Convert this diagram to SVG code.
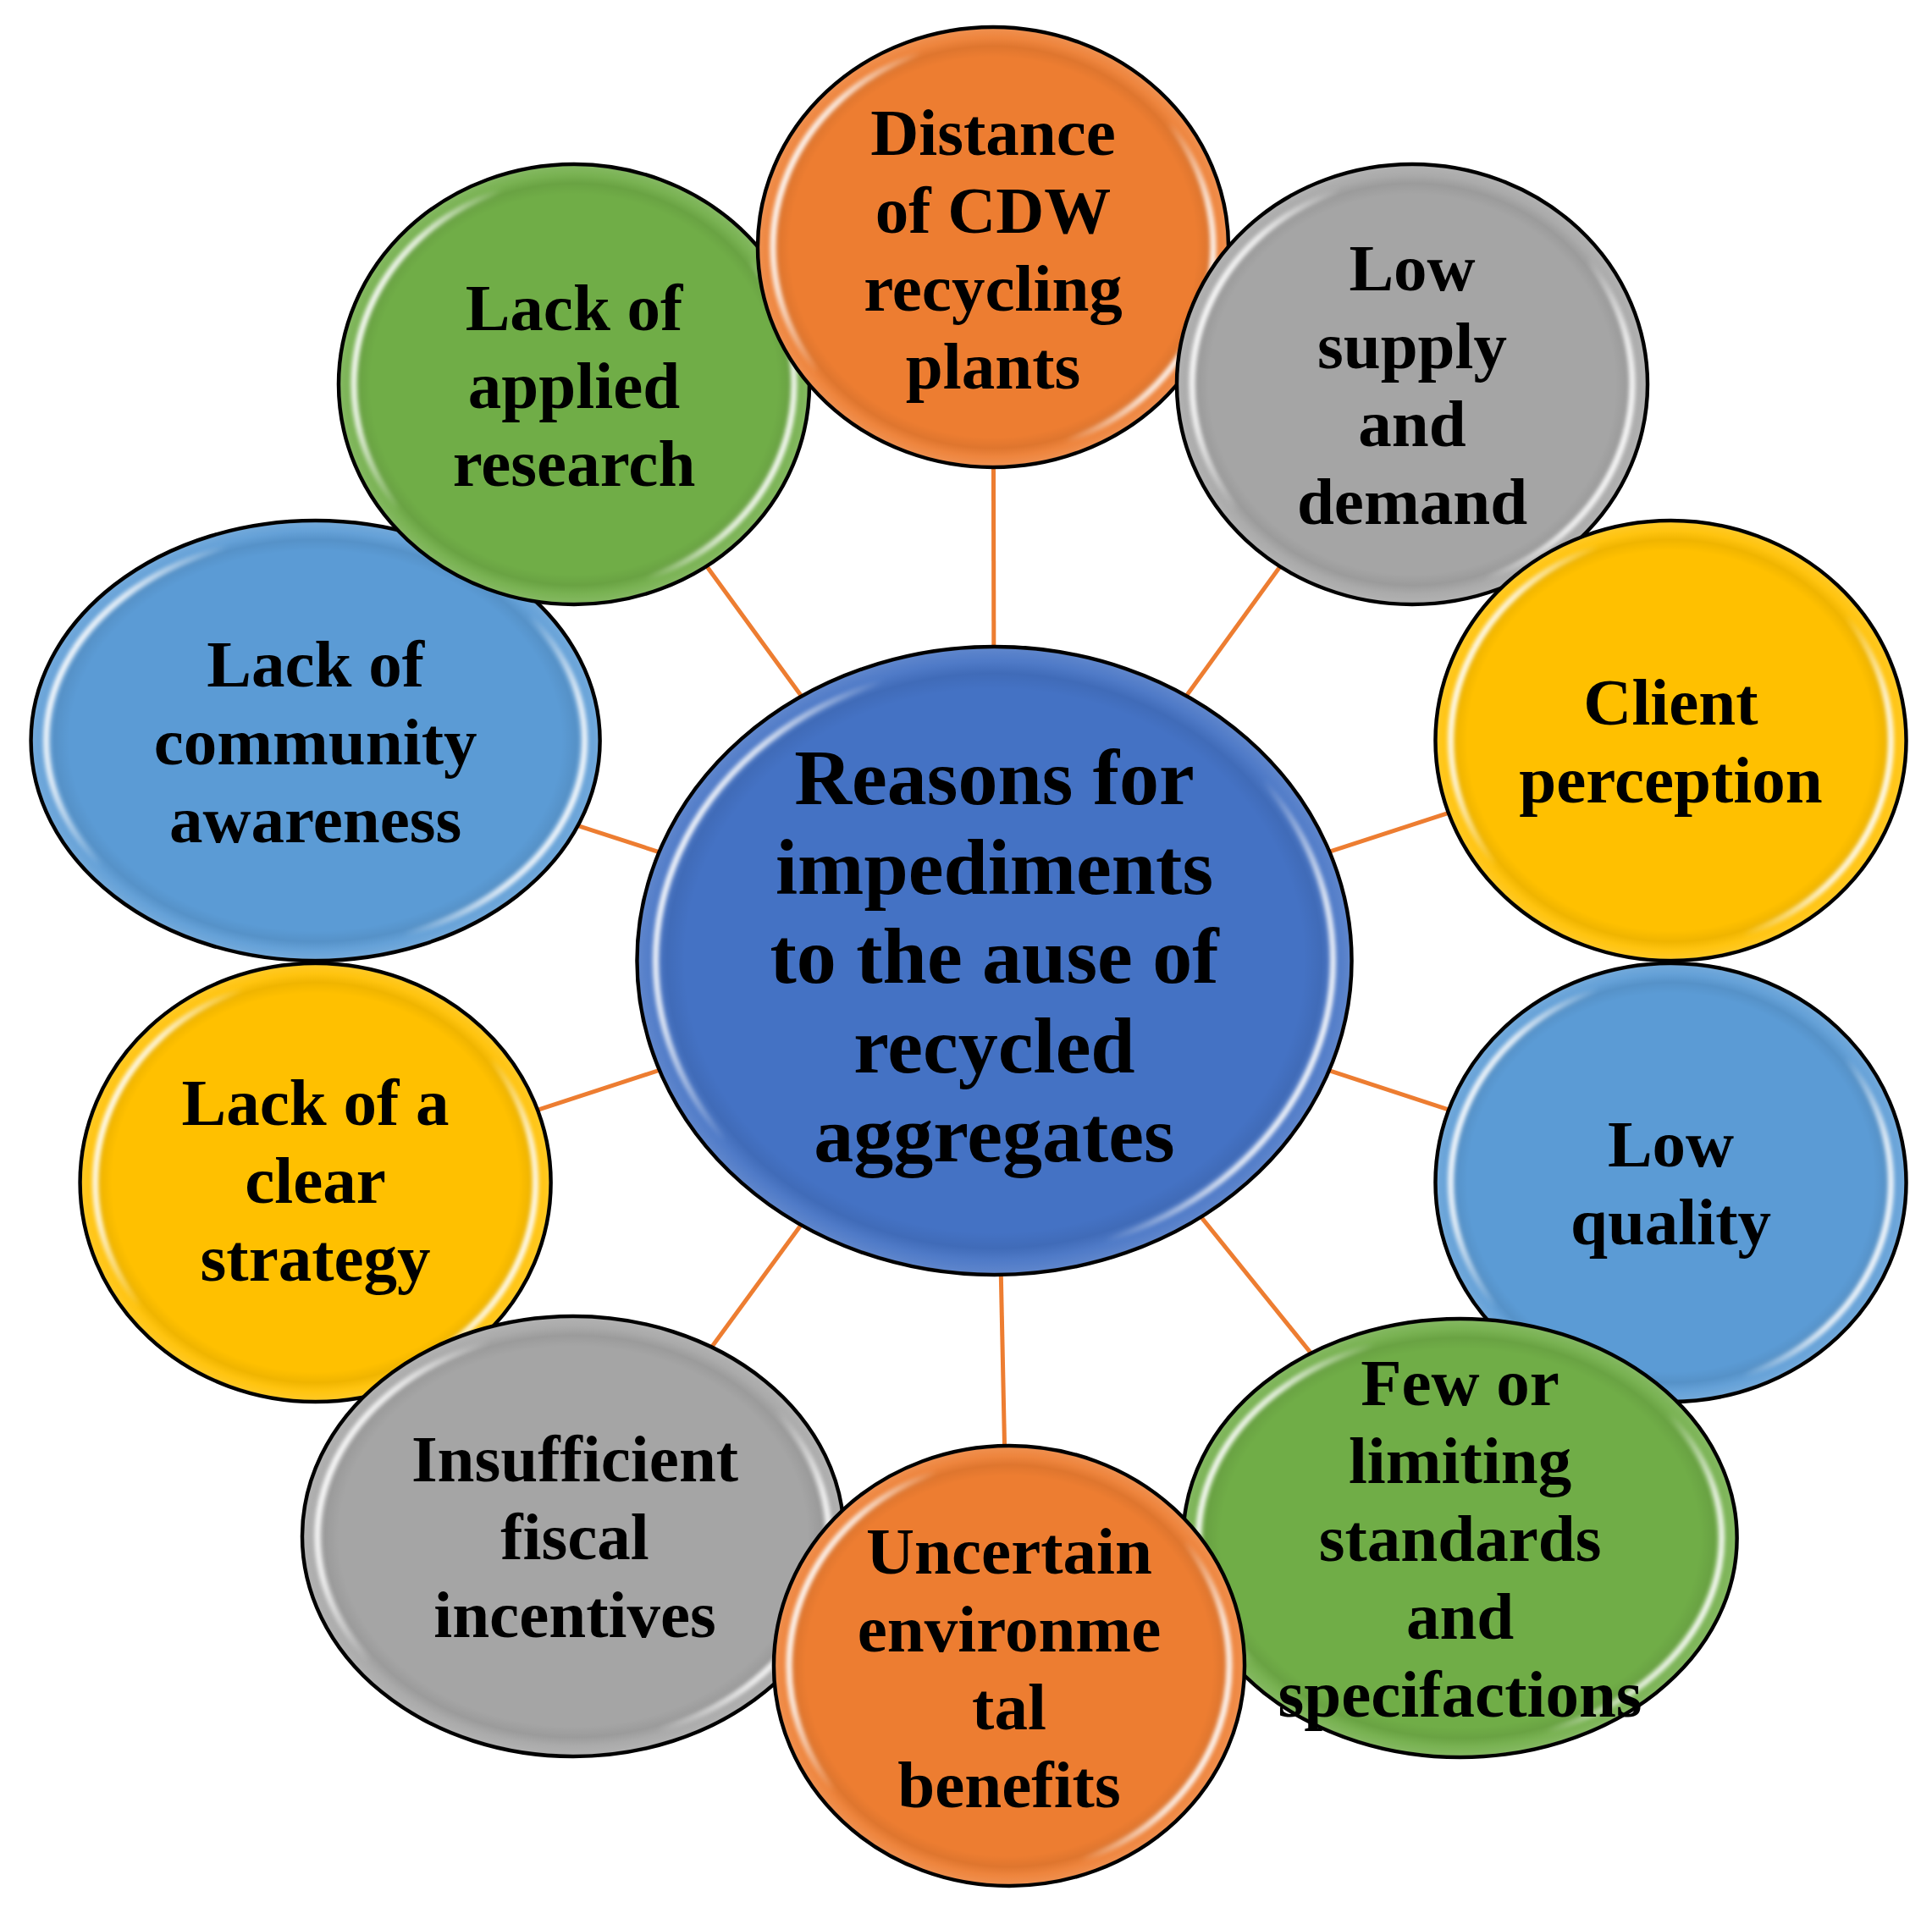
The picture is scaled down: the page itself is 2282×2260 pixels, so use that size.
<svg xmlns="http://www.w3.org/2000/svg" width="2282" height="2260" viewBox="0 0 2282 2260">
<style>
.b{stroke:#000;stroke-width:4.5}
.rim{fill:url(#rim)}
.hl{fill:none;stroke:url(#hl);stroke-width:7}
.t{font-family:"Liberation Serif","Times New Roman",serif;font-weight:bold;font-size:79px;text-anchor:middle;fill:#000}
.c{font-size:94px}
.ln{stroke:#ED7D31;stroke-width:5;fill:none}
</style>
<defs>
<linearGradient id="hl" x1="0" y1="0.35" x2="1" y2="0.65">
<stop offset="0" stop-color="#fff" stop-opacity="1"/>
<stop offset="0.08" stop-color="#fff" stop-opacity="0.85"/>
<stop offset="0.22" stop-color="#fff" stop-opacity="0"/>
<stop offset="0.78" stop-color="#fff" stop-opacity="0"/>
<stop offset="0.92" stop-color="#fff" stop-opacity="0.85"/>
<stop offset="1" stop-color="#fff" stop-opacity="1"/>
</linearGradient>
<radialGradient id="rim" cx="0.5" cy="0.5" r="0.5">
<stop offset="0" stop-color="#000" stop-opacity="0"/>
<stop offset="0.87" stop-color="#000" stop-opacity="0"/>
<stop offset="0.92" stop-color="#000" stop-opacity="0.06"/>
<stop offset="0.96" stop-color="#fff" stop-opacity="0.06"/>
<stop offset="1" stop-color="#fff" stop-opacity="0.14"/>
</radialGradient>
<filter id="blur" x="-10%" y="-10%" width="120%" height="120%">
<feGaussianBlur stdDeviation="2.5"/>
</filter>
</defs>
<rect width="2282" height="2260" fill="#fff"/>
<g id="connectors">
<line class="ln" x1="1174.5" y1="1135" x2="1173" y2="292"/>
<line class="ln" x1="1174.5" y1="1135" x2="1668" y2="454"/>
<line class="ln" x1="1174.5" y1="1135" x2="1973.5" y2="875"/>
<line class="ln" x1="1174.5" y1="1135" x2="1973.5" y2="1397"/>
<line class="ln" x1="1174.5" y1="1135" x2="1724.6" y2="1817"/>
<line class="ln" x1="1174.5" y1="1135" x2="1192" y2="1968"/>
<line class="ln" x1="1174.5" y1="1135" x2="677" y2="1815"/>
<line class="ln" x1="1174.5" y1="1135" x2="372.6" y2="1397"/>
<line class="ln" x1="1174.5" y1="1135" x2="372.6" y2="875"/>
<line class="ln" x1="1174.5" y1="1135" x2="678" y2="454"/>
</g>
<g id="center">
<ellipse class="b" cx="1174.5" cy="1135" rx="422" ry="371" fill="#4472C4"/>
<ellipse class="rim" cx="1174.5" cy="1135" rx="420" ry="369"/>
<ellipse class="hl" cx="1174.5" cy="1135" rx="400" ry="349" filter="url(#blur)"/>
<text class="t c" x="1174.5" y="950">Reasons for</text>
<text class="t c" x="1174.5" y="1056">impediments</text>
<text class="t c" x="1174.5" y="1161">to the ause of</text>
<text class="t c" x="1174.5" y="1267">recycled</text>
<text class="t c" x="1174.5" y="1372">aggregates</text>
</g>
<g id="community">
<ellipse class="b" cx="372.6" cy="875" rx="336" ry="260" fill="#5B9BD5"/>
<ellipse class="rim" cx="372.6" cy="875" rx="334" ry="258"/>
<ellipse class="hl" cx="372.6" cy="875" rx="318" ry="242" filter="url(#blur)"/>
<text class="t" x="372.6" y="811">Lack of</text>
<text class="t" x="372.6" y="903">community</text>
<text class="t" x="372.6" y="995">awareness</text>
</g>
<g id="strategy">
<ellipse class="b" cx="372.6" cy="1397" rx="278" ry="259" fill="#FFC000"/>
<ellipse class="rim" cx="372.6" cy="1397" rx="276" ry="257"/>
<ellipse class="hl" cx="372.6" cy="1397" rx="260" ry="241" filter="url(#blur)"/>
<text class="t" x="372.6" y="1329">Lack of a</text>
<text class="t" x="372.6" y="1421">clear</text>
<text class="t" x="372.6" y="1513">strategy</text>
</g>
<g id="insufficient">
<ellipse class="b" cx="677" cy="1815" rx="320" ry="260" fill="#A5A5A5"/>
<ellipse class="rim" cx="677" cy="1815" rx="318" ry="258"/>
<ellipse class="hl" cx="677" cy="1815" rx="302" ry="242" filter="url(#blur)"/>
<text class="t" x="679" y="1750">Insufficient</text>
<text class="t" x="679" y="1842">fiscal</text>
<text class="t" x="679" y="1934">incentives</text>
</g>
<g id="applied">
<ellipse class="b" cx="678" cy="454" rx="278" ry="260" fill="#70AD47"/>
<ellipse class="rim" cx="678" cy="454" rx="276" ry="258"/>
<ellipse class="hl" cx="678" cy="454" rx="260" ry="242" filter="url(#blur)"/>
<text class="t" x="678" y="390">Lack of</text>
<text class="t" x="678" y="482">applied</text>
<text class="t" x="678" y="574">research</text>
</g>
<g id="distance">
<ellipse class="b" cx="1173" cy="292" rx="278" ry="260" fill="#ED7D31"/>
<ellipse class="rim" cx="1173" cy="292" rx="276" ry="258"/>
<ellipse class="hl" cx="1173" cy="292" rx="260" ry="242" filter="url(#blur)"/>
<text class="t" x="1173" y="183">Distance</text>
<text class="t" x="1173" y="275">of CDW</text>
<text class="t" x="1173" y="367">recycling</text>
<text class="t" x="1173" y="459">plants</text>
</g>
<g id="lowsupply">
<ellipse class="b" cx="1668" cy="454" rx="278" ry="260" fill="#A5A5A5"/>
<ellipse class="rim" cx="1668" cy="454" rx="276" ry="258"/>
<ellipse class="hl" cx="1668" cy="454" rx="260" ry="242" filter="url(#blur)"/>
<text class="t" x="1668" y="343">Low</text>
<text class="t" x="1668" y="435">supply</text>
<text class="t" x="1668" y="527">and</text>
<text class="t" x="1668" y="619">demand</text>
</g>
<g id="client">
<ellipse class="b" cx="1973.5" cy="875" rx="278" ry="260" fill="#FFC000"/>
<ellipse class="rim" cx="1973.5" cy="875" rx="276" ry="258"/>
<ellipse class="hl" cx="1973.5" cy="875" rx="260" ry="242" filter="url(#blur)"/>
<text class="t" x="1973.5" y="856">Client</text>
<text class="t" x="1973.5" y="948">perception</text>
</g>
<g id="lowquality">
<ellipse class="b" cx="1973.5" cy="1397" rx="278" ry="259" fill="#5B9BD5"/>
<ellipse class="rim" cx="1973.5" cy="1397" rx="276" ry="257"/>
<ellipse class="hl" cx="1973.5" cy="1397" rx="260" ry="241" filter="url(#blur)"/>
<text class="t" x="1973.5" y="1378">Low</text>
<text class="t" x="1973.5" y="1470">quality</text>
</g>
<g id="few">
<ellipse class="b" cx="1724.6" cy="1817" rx="327" ry="259" fill="#70AD47"/>
<ellipse class="rim" cx="1724.6" cy="1817" rx="325" ry="257"/>
<ellipse class="hl" cx="1724.6" cy="1817" rx="309" ry="241" filter="url(#blur)"/>
<text class="t" x="1724.6" y="1660">Few or</text>
<text class="t" x="1724.6" y="1752">limiting</text>
<text class="t" x="1724.6" y="1844">standards</text>
<text class="t" x="1724.6" y="1936">and</text>
<text class="t" x="1724.6" y="2028">specifactions</text>
</g>
<g id="uncertain">
<ellipse class="b" cx="1192" cy="1968" rx="278" ry="260" fill="#ED7D31"/>
<ellipse class="rim" cx="1192" cy="1968" rx="276" ry="258"/>
<ellipse class="hl" cx="1192" cy="1968" rx="260" ry="242" filter="url(#blur)"/>
<text class="t" x="1192" y="1859">Uncertain</text>
<text class="t" x="1192" y="1951">environme</text>
<text class="t" x="1192" y="2043">tal</text>
<text class="t" x="1192" y="2135">benefits</text>
</g>
</svg>
